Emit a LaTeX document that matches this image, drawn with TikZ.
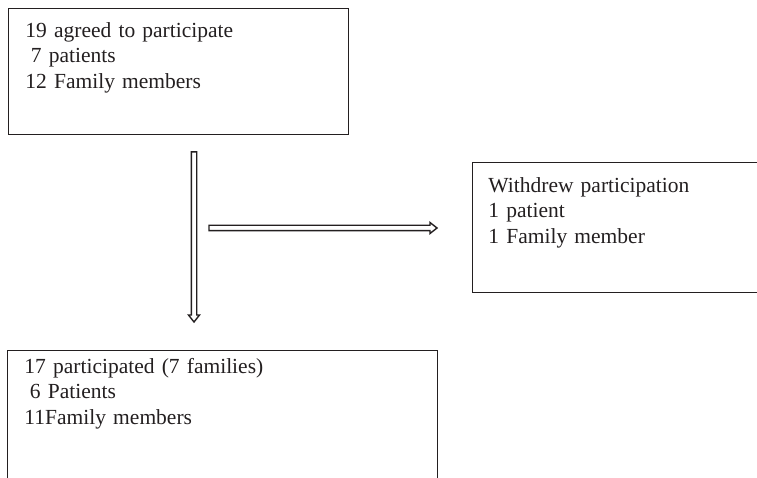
\documentclass[tikz,border=0pt]{standalone}
\usepackage{fontspec}
\setmainfont{Liberation Serif}
\usetikzlibrary{calc}
\definecolor{ink}{HTML}{231F20}
\tikzset{
  box/.style={draw=ink, line width=0.9pt, anchor=north west, inner ysep=0pt,
    align=left, text=ink, font=\fontsize{21.5}{25.5}\selectfont},
  arrowline/.style={draw=ink, fill=white, line width=1.4pt, line join=miter},
}
\begin{document}
\begin{tikzpicture}[x=1pt,y=-1pt]
\useasboundingbox (0,0) rectangle (757,478);
\clip (0,0) rectangle (757,478);
\fill[white] (0,0) rectangle (757,478);
\node[box, inner xsep=17pt, text width=306pt, text height=29pt, text depth=97pt] (b1) at (8,8)
  {19 agreed to participate\\\hspace*{5.5pt}7 patients\\12 Family members};
\node[box, inner xsep=16pt, text width=400pt, text height=30pt, text depth=100pt] (b2) at (472,162)
  {Withdrew participation\\1 patient\\1 Family member};
\node[box, inner xsep=17pt, text width=396pt, text height=23pt, text depth=130pt] (b3) at (7,350)
  {17 participated (7 families)\\\hspace*{5.5pt}6 Patients\\11Family members};
\coordinate (vx) at (194,0);
\coordinate (h0) at (209,228);
% vertical connector b1 -> b3
\coordinate (vs) at ($(b1.south -| vx)+(0,17)$);
\coordinate (ve) at ($(b3.north -| vx)+(0,-28)$);
\draw[arrowline] ($(vs)+(-2.7,0)$) -- ($(ve)+(-2.7,-7)$) -- ($(ve)+(-5.5,-7)$) -- (ve)
  -- ($(ve)+(5.5,-7)$) -- ($(ve)+(2.7,-7)$) -- ($(vs)+(2.7,0)$) -- cycle;
% horizontal connector -> b2
\coordinate (he) at ($(h0 -| b2.west)+(-35,0)$);
\draw[arrowline] ($(h0)+(0,-2.7)$) -- ($(he)+(-7,-2.7)$) -- ($(he)+(-7,-5.5)$) -- (he)
  -- ($(he)+(-7,5.5)$) -- ($(he)+(-7,2.7)$) -- ($(h0)+(0,2.7)$) -- cycle;
\end{tikzpicture}
\end{document}
